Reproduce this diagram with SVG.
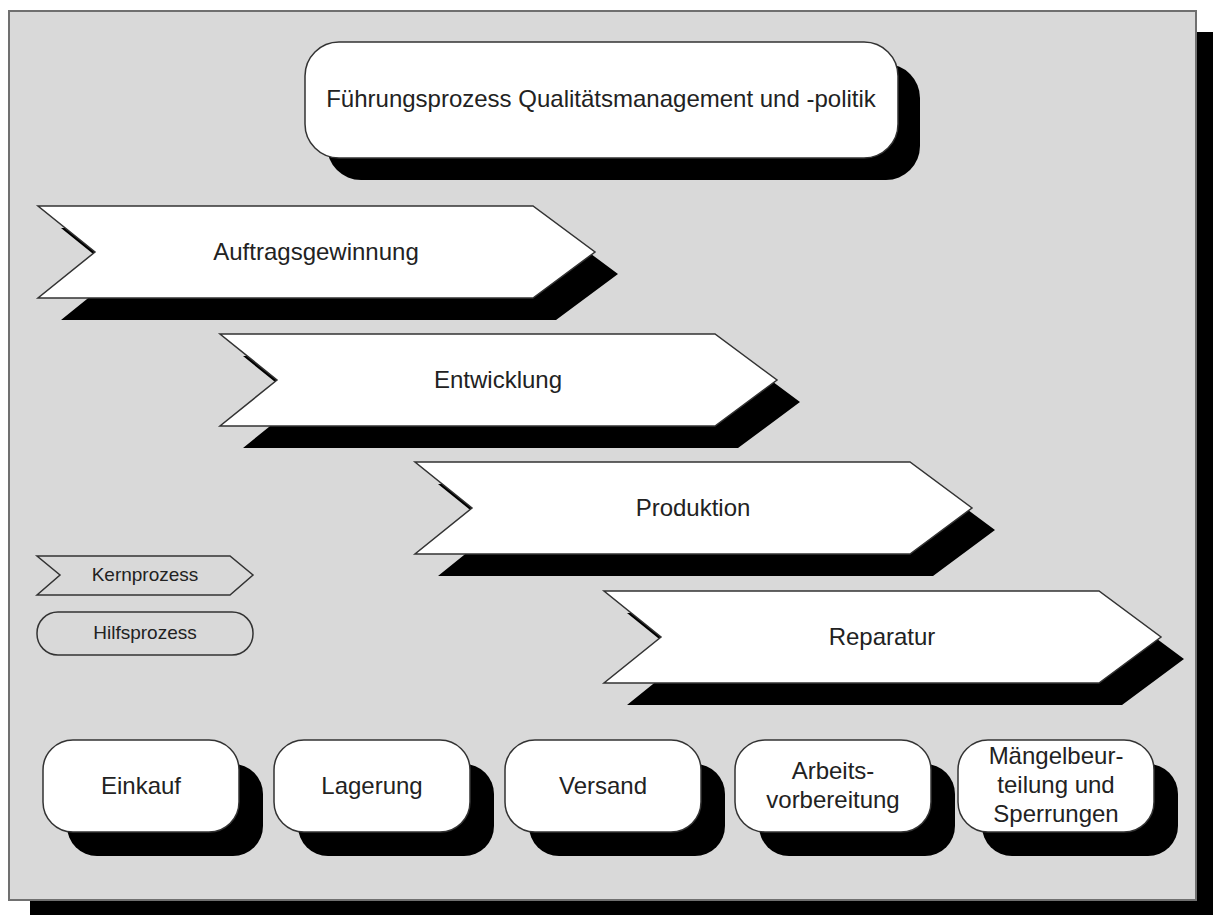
<svg xmlns="http://www.w3.org/2000/svg" width="1213" height="915" viewBox="0 0 1213 915">
<style>
.t{font-family:"Liberation Sans",Arial,sans-serif;font-size:24px;fill:#222;text-anchor:middle}
.s{font-family:"Liberation Sans",Arial,sans-serif;font-size:19px;fill:#222;text-anchor:middle}
.w{fill:#fff;stroke:#333;stroke-width:1.5}
.sh{fill:#000}
.lg{fill:#d9d9d9;stroke:#333;stroke-width:1.5}
</style>
<defs>
<path id="chev" d="M0,0 L495,0 L557,46 L495,92 L0,92 L57,46 Z"/>
<rect id="hp" x="0" y="0" width="196" height="92" rx="30" ry="30"/>
</defs>
<rect x="30" y="32" width="1187" height="889" fill="#000"/>
<rect x="9" y="11" width="1187" height="889" fill="#d9d9d9" stroke="#707070" stroke-width="2"/>

<g id="fuehrung">
<rect x="327" y="64" width="593" height="116" rx="34" class="sh"/>
<rect x="305" y="42" width="593" height="116" rx="34" class="w"/>
<text x="601" y="107" class="t">Führungsprozess Qualitätsmanagement und -politik</text>
</g>

<g id="auftragsgewinnung">
<use href="#chev" x="61" y="228" class="sh"/>
<use href="#chev" x="38" y="206" class="w"/>
<text x="316" y="260" class="t">Auftragsgewinnung</text>
</g>
<g id="entwicklung">
<use href="#chev" x="243" y="356" class="sh"/>
<use href="#chev" x="220" y="334" class="w"/>
<text x="498" y="388" class="t">Entwicklung</text>
</g>
<g id="produktion">
<use href="#chev" x="438" y="484" class="sh"/>
<use href="#chev" x="415" y="462" class="w"/>
<text x="693" y="516" class="t">Produktion</text>
</g>
<g id="reparatur">
<use href="#chev" x="627" y="613" class="sh"/>
<use href="#chev" x="604" y="591" class="w"/>
<text x="882" y="645" class="t">Reparatur</text>
</g>

<g id="legende-kernprozess">
<path d="M37,556 L230,556 L253,575 L230,595 L37,595 L60,575 Z" class="lg"/>
<text x="145" y="581" class="s">Kernprozess</text>
</g>
<g id="legende-hilfsprozess">
<rect x="37" y="612" width="216" height="43" rx="21" class="lg"/>
<text x="145" y="639" class="s">Hilfsprozess</text>
</g>

<g id="einkauf">
<use href="#hp" x="67" y="764" class="sh"/>
<use href="#hp" x="43" y="740" class="w"/>
<text x="141" y="794" class="t">Einkauf</text>
</g>
<g id="lagerung">
<use href="#hp" x="298" y="764" class="sh"/>
<use href="#hp" x="274" y="740" class="w"/>
<text x="372" y="794" class="t">Lagerung</text>
</g>
<g id="versand">
<use href="#hp" x="529" y="764" class="sh"/>
<use href="#hp" x="505" y="740" class="w"/>
<text x="603" y="794" class="t">Versand</text>
</g>
<g id="arbeitsvorbereitung">
<use href="#hp" x="759" y="764" class="sh"/>
<use href="#hp" x="735" y="740" class="w"/>
<text x="833" y="779" class="t">Arbeits-</text>
<text x="833" y="808" class="t">vorbereitung</text>
</g>
<g id="maengelbeurteilung">
<use href="#hp" x="982" y="764" class="sh"/>
<use href="#hp" x="958" y="740" class="w"/>
<text x="1056" y="764" class="t">Mängelbeur-</text>
<text x="1056" y="793" class="t">teilung und</text>
<text x="1056" y="822" class="t">Sperrungen</text>
</g>
<g id="connectors"/>
</svg>
